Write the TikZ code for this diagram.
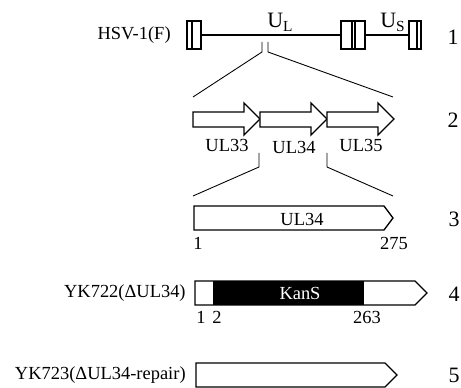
\documentclass[tikz,border=0pt]{standalone}
\usepackage{fontspec}
\setmainfont{Liberation Serif}
\usetikzlibrary{positioning,calc}

\begin{document}
\begin{tikzpicture}[x=0.02cm, y=-0.02cm,
    lbl/.style={font=\fontsize{10.5}{12}\selectfont, inner sep=0pt},
    big/.style={font=\fontsize{12.5}{14}\selectfont, inner sep=0pt},
    ln/.style={line width=0.75pt},
    gene/.style={ln, fill=white, line join=miter},
    zoomline/.style={line width=0.5pt}
]
\useasboundingbox (0,0) rectangle (461,388);

% row 1: genome
\draw[ln] (187,21) rectangle (201,49) (192,21) -- (192,49);
\draw[ln] (341,21) rectangle (365,49) (352,21) -- (352,49) (355,21) -- (355,49);
\draw[ln] (409,21) rectangle (421,49) (417,21) -- (417,49);
\coordinate (trl) at (201,35);
\coordinate (irl) at (341,35);
\coordinate (irs) at (365,35);
\coordinate (trs) at (409,35);
\draw[ln] (trl) -- (irl);
\draw[ln] (irs) -- (trs);
\node[big, anchor=base west] (ul) at (267,28) {U\textsubscript{L}};
\node[big, anchor=base west] (us) at (380,28) {U\textsubscript{S}};
\node[lbl, anchor=east] (hsv) at (171,35) {HSV-1(F)};
\node[big] (n1) at (453,37) {1};

% zoom to row 2
\coordinate (za) at (262,42);
\coordinate (zb) at (268,42);
\coordinate (zc) at (193,97);
\coordinate (zd) at (393,97);
\draw[zoomline] (za) -- ++(0,10) -- (zc);
\draw[zoomline] (zb) -- ++(0,10) -- (zd);

% row 2: UL33-UL35
\foreach \x/\ly/\name in {193/145/UL33, 260/147/UL34, 327/145/UL35} {
  \draw[gene] (\x,112) -- ++(51,0) -- ++(0,-9) -- ++(16,16) -- ++(-16,16)
    -- ++(0,-8) -- ++(-51,0) -- cycle;
  \node[lbl] (\name) at (\x+34,\ly) {\name};
}
\node[big] (n2) at (453,120) {2};

% zoom to row 3
\coordinate (ze) at (259,153);
\coordinate (zf) at (327,153);
\coordinate (zg) at (193,196);
\coordinate (zh) at (393,196);
\draw[zoomline] (ze) -- ++(0,14) -- (zg);
\draw[zoomline] (zf) -- ++(0,14) -- (zh);

% row 3: UL34
\draw[gene] (194,206) -- (384,206) -- (393,218) -- (384,230) -- (194,230) -- cycle;
\node[lbl] (ul34) at (302,219) {UL34};
\node[lbl] (p1) at (198,243) {1};
\node[lbl] (p275) at (394,243) {275};
\node[big] (n3) at (454,219) {3};

% row 4: YK722
\fill (213,281) rectangle (364,305);
\draw[gene, fill=none] (195,281) -- (415,281) -- (427,293) -- (415,305) -- (195,305) -- cycle;
\node[lbl, text=white] (kans) at (300,293) {KanS};
\node[lbl, anchor=east] (yk722) at (186,293) {YK722(ΔUL34)};
\node[lbl] (q1) at (201,317) {1};
\node[lbl] (q2) at (217,317) {2};
\node[lbl] (q263) at (367,317) {263};
\node[big] (n4) at (454,294) {4};

% row 5: YK723
\draw[gene] (196,363) -- (385,363) -- (397,375) -- (385,387) -- (196,387) -- cycle;
\node[lbl, anchor=east] (yk723) at (186,375) {YK723(ΔUL34-repair)};
\node[big] (n5) at (454,375) {5};
\end{tikzpicture}
\end{document}
